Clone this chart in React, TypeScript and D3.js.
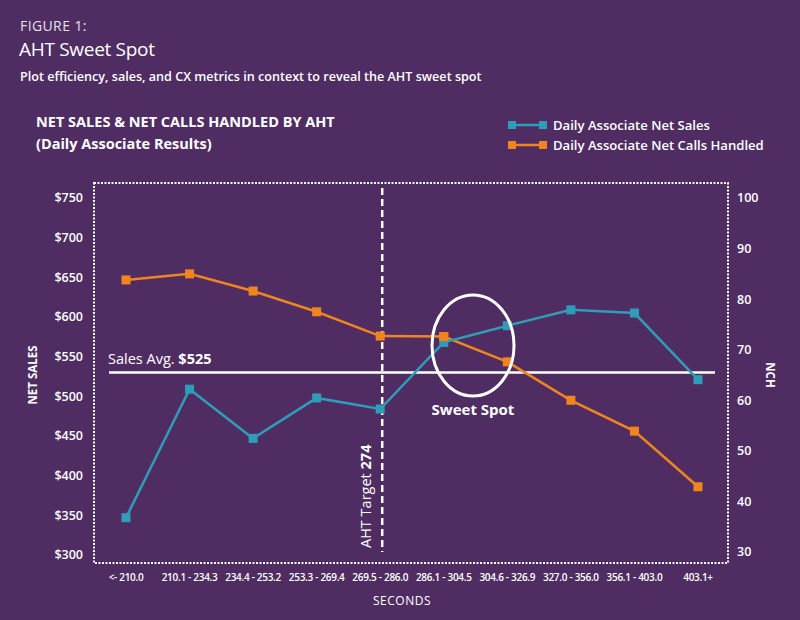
import React from "react";
import * as d3 from "d3";

const categories = ["<- 210.0", "210.1 - 234.3", "234.4 - 253.2", "253.3 - 269.4", "269.5 - 286.0", "286.1 - 304.5", "304.6 - 326.9", "327.0 - 356.0", "356.1 - 403.0", "403.1+"];
const netSales = [347, 509, 447, 498, 484, 568, 589, 609, 605, 521];
const netCalls = [83.8, 85.0, 81.6, 77.5, 72.7, 72.6, 67.6, 60.0, 53.9, 42.9];
const salesTicks = [300, 350, 400, 450, 500, 550, 600, 650, 700, 750];
const nchTicks = [30, 40, 50, 60, 70, 80, 90, 100];
const salesAvgLabel = 525;
const salesAvgLine = 530;
const ahtTarget = 274;
const ahtCategoryIndex = 4;

const BG = "#4f2d62";
const TEAL = "#2f9cb8";
const ORANGE = "#f0851f";
const FONT = "'Open Sans', 'Noto Sans', sans-serif";

export default function App() {
  const W = 800, H = 620;
  const x = d3.scalePoint<string>().domain(categories).range([126, 698]);
  const yL = d3.scaleLinear().domain([300, 750]).range([555, 198]);
  const yR = d3.scaleLinear().domain([30, 100]).range([552, 198]);
  const salesLine = d3.line<number>().x((_, i) => x(categories[i])!).y((d) => yL(d));
  const callsLine = d3.line<number>().x((_, i) => x(categories[i])!).y((d) => yR(d));
  const ahtX = x(categories[ahtCategoryIndex])! + 2;
  const ms = 9;

  return (
    <svg width={W} height={H} style={{ position: "absolute", left: 0, top: 0, background: BG }} fontFamily={FONT}>
      <rect x={0} y={0} width={W} height={H} fill={BG} />
      <text x={20} y={31} fill="#e6e0ea" fontSize={14} letterSpacing={0.4}>FIGURE 1:</text>
      <text x={19} y={56} fill="#ffffff" fontSize={19} letterSpacing={-0.3}>AHT Sweet Spot</text>
      <text x={20} y={81} fill="#ffffff" fontSize={12.6} fontWeight={600}>Plot efficiency, sales, and CX metrics in context to reveal the AHT sweet spot</text>
      <text x={36} y={127} fill="#ffffff" fontSize={14.5} fontWeight={700}>NET SALES &amp; NET CALLS HANDLED BY AHT</text>
      <text x={36} y={149} fill="#ffffff" fontSize={14.5} fontWeight={700}>(Daily Associate Results)</text>

      {/* legend */}
      <line x1={510} x2={545} y1={125} y2={125} stroke={TEAL} strokeWidth={2.5} />
      <rect x={508} y={121} width={8} height={8} fill={TEAL} />
      <rect x={539} y={121} width={8} height={8} fill={TEAL} />
      <text x={553} y={130} fill="#ffffff" fontSize={13.1} fontWeight={600}>Daily Associate Net Sales</text>
      <line x1={510} x2={545} y1={145} y2={145} stroke={ORANGE} strokeWidth={2.5} />
      <rect x={508} y={141} width={8} height={8} fill={ORANGE} />
      <rect x={539} y={141} width={8} height={8} fill={ORANGE} />
      <text x={553} y={150} fill="#ffffff" fontSize={13.1} fontWeight={600}>Daily Associate Net Calls Handled</text>

      {/* plot frame */}
      <rect x={94} y={183} width={634} height={380} fill="none" stroke="#ffffff" strokeWidth={2} strokeDasharray="2,1.5" />

      {/* left axis */}
      {salesTicks.map((t) => (
        <text key={t} x={83} y={yL(t)} dy="0.35em" textAnchor="end" fill="#ffffff" fontSize={12.5} fontWeight={600}>{d3.format("$")(t)}</text>
      ))}
      <text transform={`translate(37,${375}) rotate(-90)`} textAnchor="middle" fill="#ffffff" fontSize={11.5} fontWeight={700}>NET SALES</text>

      {/* right axis */}
      {nchTicks.map((t) => (
        <text key={t} x={737} y={yR(t)} dy="0.35em" textAnchor="start" fill="#ffffff" fontSize={12.5} fontWeight={600}>{t}</text>
      ))}
      <text transform={`translate(766,${375}) rotate(90)`} textAnchor="middle" fill="#ffffff" fontSize={11.5} fontWeight={700}>NCH</text>

      {/* x axis labels */}
      {categories.map((c) => (
        <text key={c} x={x(c)!} y={581} textAnchor="middle" fill="#ffffff" fontSize={10} fontWeight={600} letterSpacing={-0.3}>{c}</text>
      ))}
      <text x={402} y={605} textAnchor="middle" fill="#ffffff" fontSize={12} letterSpacing={0.5}>SECONDS</text>

      {/* AHT target */}
      <line x1={ahtX} x2={ahtX} y1={188} y2={552} stroke="#ffffff" strokeWidth={2.5} strokeDasharray="7,4" />
      <text transform={`translate(371,548) rotate(-90)`} fill="#ffffff" fontSize={14.5}>
        AHT Target <tspan fontWeight={700}>{ahtTarget}</tspan>
      </text>

      {/* sales avg */}
      <line x1={109} x2={715} y1={yL(salesAvgLine)} y2={yL(salesAvgLine)} stroke="#ffffff" strokeWidth={2.5} />
      <text x={108} y={yL(salesAvgLine) - 9} fill="#ffffff" fontSize={14.5}>
        Sales Avg. <tspan fontWeight={700}>{d3.format("$")(salesAvgLabel)}</tspan>
      </text>

      {/* series */}
      <path d={callsLine(netCalls)!} fill="none" stroke={ORANGE} strokeWidth={2.5} />
      {netCalls.map((v, i) => (
        <rect key={"c" + i} x={x(categories[i])! - ms / 2} y={yR(v) - ms / 2} width={ms} height={ms} fill={ORANGE} />
      ))}
      <path d={salesLine(netSales)!} fill="none" stroke={TEAL} strokeWidth={2.5} />
      {netSales.map((v, i) => (
        <rect key={"s" + i} x={x(categories[i])! - ms / 2} y={yL(v) - ms / 2} width={ms} height={ms} fill={TEAL} />
      ))}
      <rect x={x(categories[5])! - ms / 2} y={yR(netCalls[5]) - ms / 2} width={ms} height={ms} fill={ORANGE} />

      {/* sweet spot */}
      <ellipse cx={473} cy={345.5} rx={41} ry={50.5} fill="none" stroke="#ffffff" strokeWidth={3} />
      <text x={473} y={415} textAnchor="middle" fill="#ffffff" fontSize={15} fontWeight={700}>Sweet Spot</text>
    </svg>
  );
}
